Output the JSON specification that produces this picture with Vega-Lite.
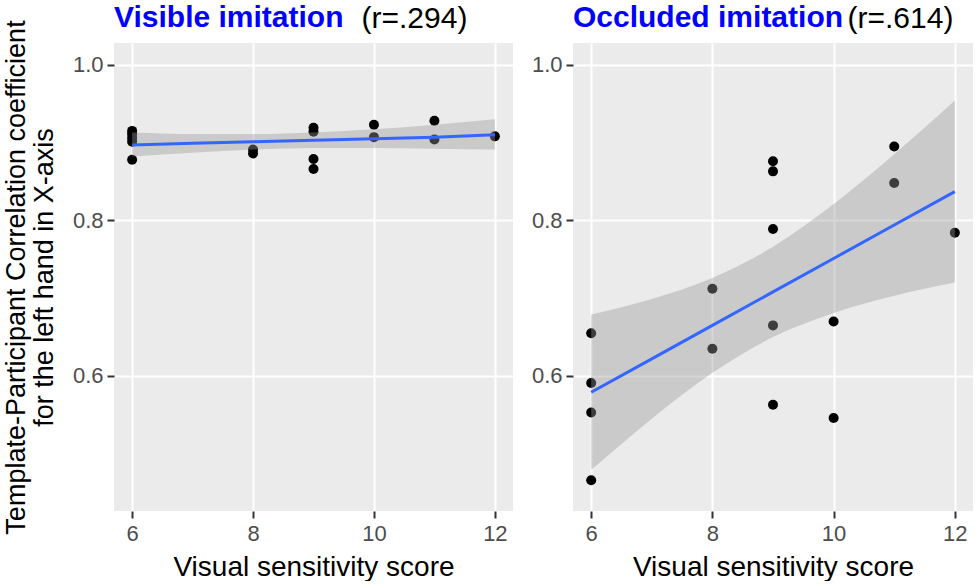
{
  "$schema": "https://vega.github.io/schema/vega-lite/v6.json",
  "background": "white",
  "padding": {"left": 2, "top": 3, "right": 0, "bottom": 0},
  "spacing": 18,
  "config": {
    "font": "Liberation Sans",
    "view": {"fill": "#EBEBEB", "stroke": null},
    "axis": {
      "labelFont": "Liberation Sans", "titleFont": "Liberation Sans",
      "labelFontSize": 22, "labelColor": "#4D4D4D",
      "titleFontSize": 27, "titleColor": "#000000", "titleFontWeight": "normal",
      "tickColor": "#333333", "tickSize": 7, "tickWidth": 2,
      "gridColor": "#FFFFFF", "gridWidth": 2, "domain": false
    }
  },
  "datasets": {
    "pts": [
      {"panel": "Visible", "score": 6, "r": 0.915},
      {"panel": "Visible", "score": 6, "r": 0.911},
      {"panel": "Visible", "score": 6, "r": 0.906},
      {"panel": "Visible", "score": 6, "r": 0.901},
      {"panel": "Visible", "score": 6, "r": 0.878},
      {"panel": "Visible", "score": 8, "r": 0.891},
      {"panel": "Visible", "score": 8, "r": 0.886},
      {"panel": "Visible", "score": 9, "r": 0.919},
      {"panel": "Visible", "score": 9, "r": 0.914},
      {"panel": "Visible", "score": 9, "r": 0.879},
      {"panel": "Visible", "score": 9, "r": 0.866},
      {"panel": "Visible", "score": 10, "r": 0.923},
      {"panel": "Visible", "score": 10, "r": 0.907},
      {"panel": "Visible", "score": 11, "r": 0.928},
      {"panel": "Visible", "score": 11, "r": 0.904},
      {"panel": "Visible", "score": 12, "r": 0.908},
      {"panel": "Occluded", "score": 6, "r": 0.655},
      {"panel": "Occluded", "score": 6, "r": 0.591},
      {"panel": "Occluded", "score": 6, "r": 0.553},
      {"panel": "Occluded", "score": 6, "r": 0.466},
      {"panel": "Occluded", "score": 8, "r": 0.712},
      {"panel": "Occluded", "score": 8, "r": 0.635},
      {"panel": "Occluded", "score": 9, "r": 0.876},
      {"panel": "Occluded", "score": 9, "r": 0.863},
      {"panel": "Occluded", "score": 9, "r": 0.789},
      {"panel": "Occluded", "score": 9, "r": 0.665},
      {"panel": "Occluded", "score": 9, "r": 0.563},
      {"panel": "Occluded", "score": 10, "r": 0.670},
      {"panel": "Occluded", "score": 10, "r": 0.546},
      {"panel": "Occluded", "score": 11, "r": 0.895},
      {"panel": "Occluded", "score": 11, "r": 0.848},
      {"panel": "Occluded", "score": 12, "r": 0.784}
    ],
    "bands": [
      {"panel": "Visible", "score": 6, "lower": 0.882, "upper": 0.913, "fit": 0.897},
      {"panel": "Visible", "score": 7, "lower": 0.887, "upper": 0.911, "fit": 0.899},
      {"panel": "Visible", "score": 8, "lower": 0.891, "upper": 0.911, "fit": 0.901},
      {"panel": "Visible", "score": 9, "lower": 0.893, "upper": 0.913, "fit": 0.903},
      {"panel": "Visible", "score": 10, "lower": 0.893, "upper": 0.917, "fit": 0.905},
      {"panel": "Visible", "score": 11, "lower": 0.892, "upper": 0.923, "fit": 0.907},
      {"panel": "Visible", "score": 12, "lower": 0.891, "upper": 0.930, "fit": 0.910},
      {"panel": "Occluded", "score": 6, "lower": 0.479, "upper": 0.679, "fit": 0.579},
      {"panel": "Occluded", "score": 7, "lower": 0.545, "upper": 0.699, "fit": 0.622},
      {"panel": "Occluded", "score": 8, "lower": 0.604, "upper": 0.726, "fit": 0.665},
      {"panel": "Occluded", "score": 9, "lower": 0.650, "upper": 0.766, "fit": 0.708},
      {"panel": "Occluded", "score": 10, "lower": 0.681, "upper": 0.821, "fit": 0.751},
      {"panel": "Occluded", "score": 11, "lower": 0.703, "upper": 0.885, "fit": 0.794},
      {"panel": "Occluded", "score": 12, "lower": 0.720, "upper": 0.954, "fit": 0.837}
    ]
  },
  "hconcat": [
    {
      "width": 399, "height": 468,
      "title": {"text": "Visible imitation", "anchor": "start", "frame": "group", "color": "#0000FF", "fontSize": 30, "fontWeight": "bold", "font": "Liberation Sans", "baseline": "alphabetic", "offset": -54},
      "resolve": {"axis": {"x": "independent", "y": "independent"}},
      "layer": [
        {
          "data": {"name": "pts"},
          "transform": [{"filter": "datum.panel === 'Visible'"}],
          "mark": {"type": "point", "filled": true, "color": "#000000", "opacity": 1, "size": 100},
          "encoding": {
            "x": {"field": "score", "type": "quantitative", "scale": {"domain": [5.7, 12.3], "nice": false, "zero": false},
                  "axis": {"orient": "bottom", "values": [6, 8, 10, 12], "title": "Visual sensitivity score", "titleFontSize": 28, "labelPadding": 5, "titlePadding": 9}},
            "y": {"field": "r", "type": "quantitative", "scale": {"domain": [0.4264, 1.028], "nice": false, "zero": false},
                  "axis": {"orient": "left", "values": [0.6, 0.8, 1.0], "format": ".1f", "labelPadding": 4, "titlePadding": 14,
                           "title": ["Template-Participant Correlation coefficient", "for the left hand in X-axis"], "titleLineHeight": 28}}
          }
        },
        {
          "data": {"name": "bands"},
          "transform": [{"filter": "datum.panel === 'Visible'"}],
          "mark": {"type": "area", "color": "#999999", "opacity": 0.4, "interpolate": "monotone"},
          "encoding": {
            "x": {"field": "score", "type": "quantitative",
                  "axis": {"orient": "top", "values": [7, 9, 11], "gridWidth": 1, "labels": false, "ticks": false, "title": "(r=.294)",
                           "titleFontSize": 30, "titleX": 247, "titleY": -16, "titleAlign": "left", "titleBaseline": "alphabetic", "titleAngle": 0}},
            "y": {"field": "lower", "type": "quantitative",
                  "axis": {"orient": "right", "values": [0.5, 0.7, 0.9], "gridWidth": 1, "labels": false, "ticks": false, "title": null}},
            "y2": {"field": "upper"}
          }
        },
        {
          "data": {"name": "bands"},
          "transform": [{"filter": "datum.panel === 'Visible'"}],
          "mark": {"type": "line", "color": "#3366FF", "strokeWidth": 3},
          "encoding": {
            "x": {"field": "score", "type": "quantitative", "axis": null},
            "y": {"field": "fit", "type": "quantitative", "axis": null}
          }
        }
      ]
    },
    {
      "width": 400, "height": 468,
      "title": {"text": "Occluded imitation", "anchor": "start", "frame": "group", "color": "#0000FF", "fontSize": 30, "fontWeight": "bold", "font": "Liberation Sans", "baseline": "alphabetic", "offset": -54},
      "resolve": {"axis": {"x": "independent", "y": "independent"}},
      "layer": [
        {
          "data": {"name": "pts"},
          "transform": [{"filter": "datum.panel === 'Occluded'"}],
          "mark": {"type": "point", "filled": true, "color": "#000000", "opacity": 1, "size": 100},
          "encoding": {
            "x": {"field": "score", "type": "quantitative", "scale": {"domain": [5.7, 12.3], "nice": false, "zero": false},
                  "axis": {"orient": "bottom", "values": [6, 8, 10, 12], "title": "Visual sensitivity score", "titleFontSize": 28, "labelPadding": 5, "titlePadding": 9}},
            "y": {"field": "r", "type": "quantitative", "scale": {"domain": [0.4264, 1.028], "nice": false, "zero": false},
                  "axis": {"orient": "left", "values": [0.6, 0.8, 1.0], "format": ".1f", "labelPadding": 4, "title": null}}
          }
        },
        {
          "data": {"name": "bands"},
          "transform": [{"filter": "datum.panel === 'Occluded'"}],
          "mark": {"type": "area", "color": "#999999", "opacity": 0.4, "interpolate": "monotone"},
          "encoding": {
            "x": {"field": "score", "type": "quantitative",
                  "axis": {"orient": "top", "values": [7, 9, 11], "gridWidth": 1, "labels": false, "ticks": false, "title": "(r=.614)",
                           "titleFontSize": 30, "titleX": 274, "titleY": -16, "titleAlign": "left", "titleBaseline": "alphabetic", "titleAngle": 0}},
            "y": {"field": "lower", "type": "quantitative",
                  "axis": {"orient": "right", "values": [0.5, 0.7, 0.9], "gridWidth": 1, "labels": false, "ticks": false, "title": null}},
            "y2": {"field": "upper"}
          }
        },
        {
          "data": {"name": "bands"},
          "transform": [{"filter": "datum.panel === 'Occluded'"}],
          "mark": {"type": "line", "color": "#3366FF", "strokeWidth": 3},
          "encoding": {
            "x": {"field": "score", "type": "quantitative", "axis": null},
            "y": {"field": "fit", "type": "quantitative", "axis": null}
          }
        }
      ]
    }
  ]
}
